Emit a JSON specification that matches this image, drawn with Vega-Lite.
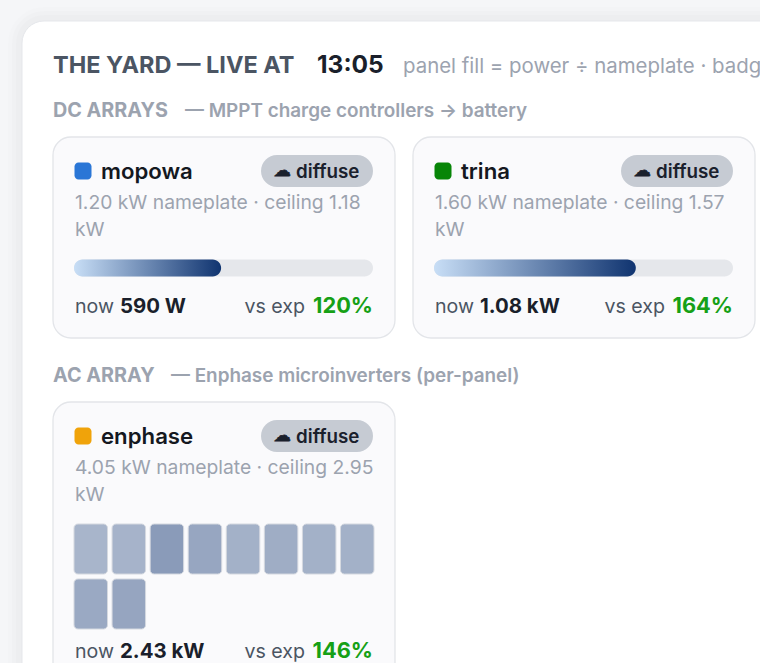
{
  "$schema": "https://vega.github.io/schema/vega-lite/v6.json",
  "width": 760,
  "height": 663,
  "autosize": {"type": "none"},
  "padding": 0,
  "background": "#f5f6f8",
  "config": {"view": {"stroke": null}, "text": {"font": "Inter", "align": "left", "baseline": "alphabetic"}},
  "datasets": {
    "header": [
      {"section": "DC ARRAYS", "slot": 1, "title": "THE YARD — LIVE AT", "time": "13:05", "note": "panel fill = power ÷ nameplate · badge"}
    ],
    "sections": [
      {"section": "DC ARRAYS", "slot": 1, "note": "— MPPT charge controllers → battery"},
      {"section": "AC ARRAY", "slot": 1, "note": "— Enphase microinverters (per-panel)"}
    ],
    "arrays": [
      {"array": "mopowa", "section": "DC ARRAYS", "slot": 1, "badge": "diffuse", "line1": "1.20 kW nameplate · ceiling 1.18", "line2": "kW", "now": "590 W", "vs_exp": "120%", "empty": 0, "full": 1, "fill_ratio": 0.492},
      {"array": "trina", "section": "DC ARRAYS", "slot": 2, "badge": "diffuse", "line1": "1.60 kW nameplate · ceiling 1.57", "line2": "kW", "now": "1.08 kW", "vs_exp": "164%", "empty": 0, "full": 1, "fill_ratio": 0.675},
      {"array": "enphase", "section": "AC ARRAY", "slot": 1, "badge": "diffuse", "line1": "4.05 kW nameplate · ceiling 2.95", "line2": "kW", "now": "2.43 kW", "vs_exp": "146%"}
    ],
    "panels": [
      {"panel": 1, "col": 1, "tier": 1, "ratio": 0.54},
      {"panel": 2, "col": 2, "tier": 1, "ratio": 0.55},
      {"panel": 3, "col": 3, "tier": 1, "ratio": 0.74},
      {"panel": 4, "col": 4, "tier": 1, "ratio": 0.65},
      {"panel": 5, "col": 5, "tier": 1, "ratio": 0.57},
      {"panel": 6, "col": 6, "tier": 1, "ratio": 0.6},
      {"panel": 7, "col": 7, "tier": 1, "ratio": 0.57},
      {"panel": 8, "col": 8, "tier": 1, "ratio": 0.57},
      {"panel": 9, "col": 1, "tier": 2, "ratio": 0.63},
      {"panel": 10, "col": 2, "tier": 2, "ratio": 0.66}
    ]
  },
  "resolve": {"scale": {"x": "independent", "y": "independent", "color": "independent"}},
  "layer": [
    {
      "encoding": {
        "x": {"field": "slot", "type": "ordinal", "axis": null, "scale": {"type": "point", "domain": [1, 2], "range": [53, 413], "padding": 0}},
        "y": {"field": "section", "type": "nominal", "axis": null, "scale": {"type": "point", "domain": ["DC ARRAYS", "AC ARRAY"], "range": [137, 402], "padding": 0}}
      },
      "layer": [
        {"data": {"name": "header"}, "mark": {"type": "rect", "width": 828, "height": 728, "xOffset": 369, "yOffset": 234, "fill": "#000000", "opacity": 0.008, "cornerRadius": 36}},
        {"data": {"name": "header"}, "mark": {"type": "rect", "width": 820, "height": 720, "xOffset": 369, "yOffset": 234, "fill": "#000000", "opacity": 0.01, "cornerRadius": 32}},
        {"data": {"name": "header"}, "mark": {"type": "rect", "width": 812, "height": 712, "xOffset": 369, "yOffset": 234, "fill": "#000000", "opacity": 0.012, "cornerRadius": 28}},
        {"data": {"name": "header"}, "mark": {"type": "rect", "width": 800, "height": 700, "xOffset": 369, "yOffset": 234, "fill": "#ffffff", "stroke": "#e5e7eb", "cornerRadius": 22}},
        {"data": {"name": "header"}, "mark": {"type": "text", "xOffset": 0, "yOffset": -64, "fontSize": 23.5, "fontWeight": 700, "fill": "#4b5563"}, "encoding": {"text": {"field": "title"}}},
        {"data": {"name": "header"}, "mark": {"type": "text", "xOffset": 264, "yOffset": -64, "fontSize": 24.5, "fontWeight": 700, "fill": "#1a1f2b"}, "encoding": {"text": {"field": "time"}}},
        {"data": {"name": "header"}, "mark": {"type": "text", "xOffset": 350, "yOffset": -64, "fontSize": 20.4, "fill": "#9ca3af"}, "encoding": {"text": {"field": "note"}}},
        {"data": {"name": "sections"}, "mark": {"type": "text", "yOffset": -20, "fontSize": 19.8, "fontWeight": 700, "fill": "#9ca3af"}, "encoding": {"text": {"field": "section"}}},
        {"data": {"name": "sections"}, "transform": [{"filter": "datum.section === 'DC ARRAYS'"}], "mark": {"type": "text", "xOffset": 132, "yOffset": -20, "fontSize": 18.9, "fontWeight": 600, "fill": "#9ca3af"}, "encoding": {"text": {"field": "note"}}},
        {"data": {"name": "sections"}, "transform": [{"filter": "datum.section === 'AC ARRAY'"}], "mark": {"type": "text", "xOffset": 118, "yOffset": -20, "fontSize": 18.9, "fontWeight": 600, "fill": "#9ca3af"}, "encoding": {"text": {"field": "note"}}},
        {"data": {"name": "arrays"}, "transform": [{"filter": "datum.section === 'DC ARRAYS'"}], "mark": {"type": "rect", "width": 342, "height": 201, "xOffset": 171, "yOffset": 100.5, "fill": "#fafafc", "stroke": "#e3e5e9", "strokeWidth": 1.3, "cornerRadius": 18}},
        {"data": {"name": "arrays"}, "transform": [{"filter": "datum.section === 'AC ARRAY'"}], "mark": {"type": "rect", "width": 342, "height": 500, "xOffset": 171, "yOffset": 250, "fill": "#fafafc", "stroke": "#e3e5e9", "strokeWidth": 1.3, "cornerRadius": 18}},
        {"data": {"name": "arrays"}, "mark": {"type": "rect", "width": 17, "height": 17, "xOffset": 30, "yOffset": 34, "cornerRadius": 4}, "encoding": {"color": {"field": "array", "type": "nominal", "legend": null, "scale": {"domain": ["mopowa", "trina", "enphase"], "range": ["#2a76d6", "#078507", "#f0a30a"]}}}},
        {"data": {"name": "arrays"}, "mark": {"type": "text", "xOffset": 48, "yOffset": 42, "fontSize": 22.2, "fontWeight": 600, "fill": "#14181f"}, "encoding": {"text": {"field": "array"}}},
        {"data": {"name": "arrays"}, "mark": {"type": "rect", "width": 112, "height": 32, "xOffset": 264, "yOffset": 34, "fill": "#c6cbd3", "cornerRadius": 16}},
        {"data": {"name": "arrays"}, "mark": {"type": "text", "xOffset": 221, "yOffset": 39, "fontSize": 17, "font": "DejaVu Sans", "fill": "#1a202c", "stroke": "#1a202c", "strokeWidth": 0.8, "text": "☁"}},
        {"data": {"name": "arrays"}, "mark": {"type": "text", "xOffset": 243, "yOffset": 41, "fontSize": 18.8, "fontWeight": 600, "fill": "#1a202c"}, "encoding": {"text": {"field": "badge"}}},
        {"data": {"name": "arrays"}, "mark": {"type": "text", "xOffset": 22, "yOffset": 72, "fontSize": 19.3, "fill": "#9ca3af"}, "encoding": {"text": {"field": "line1"}}},
        {"data": {"name": "arrays"}, "mark": {"type": "text", "xOffset": 22, "yOffset": 99, "fontSize": 19.3, "fill": "#9ca3af"}, "encoding": {"text": {"field": "line2"}}}
      ]
    },
    {
      "data": {"name": "arrays"},
      "encoding": {
        "x": {"field": "slot", "type": "ordinal", "axis": null, "scale": {"type": "point", "domain": [1, 2], "range": [53, 413], "padding": 0}},
        "y": {"field": "section", "type": "nominal", "axis": null, "scale": {"type": "point", "domain": ["DC ARRAYS", "AC ARRAY"], "range": [313, 658], "padding": 0}}
      },
      "layer": [
        {"mark": {"type": "text", "xOffset": 22, "fontSize": 19.6, "fill": "#4b5563", "text": "now"}},
        {"mark": {"type": "text", "xOffset": 67, "fontSize": 20.4, "fontWeight": 700, "fill": "#1a1f2b"}, "encoding": {"text": {"field": "now"}}},
        {"mark": {"type": "text", "xOffset": 252, "align": "right", "fontSize": 19.6, "fill": "#4b5563", "text": "vs exp"}},
        {"mark": {"type": "text", "xOffset": 320, "align": "right", "fontSize": 21.8, "fontWeight": 700, "fill": "#16a016"}, "encoding": {"text": {"field": "vs_exp"}}}
      ]
    },
    {
      "data": {"name": "arrays"},
      "transform": [{"filter": "datum.array === 'mopowa'"}],
      "encoding": {
        "y": {"field": "section", "type": "nominal", "axis": null, "scale": {"type": "point", "domain": ["DC ARRAYS", "AC ARRAY"], "range": [137, 402], "padding": 0}}
      },
      "layer": [
        {"mark": {"type": "rect", "height": 17, "yOffset": 131, "fill": "#e5e7eb", "cornerRadius": 8.5}, "encoding": {"x": {"field": "full", "type": "quantitative", "axis": null, "scale": {"domain": [0, 1], "range": [74, 373]}}, "x2": {"field": "empty"}}},
        {"mark": {"type": "rect", "height": 17, "yOffset": 131, "cornerRadius": 8.5, "fill": {"gradient": "linear", "x1": 0, "x2": 1, "y1": 0, "y2": 0, "stops": [{"offset": 0, "color": "#c8def6"}, {"offset": 1, "color": "#103470"}]}}, "encoding": {"x": {"field": "fill_ratio", "type": "quantitative", "axis": null, "scale": {"domain": [0, 1], "range": [74, 373]}}, "x2": {"field": "empty"}}}
      ]
    },
    {
      "data": {"name": "arrays"},
      "transform": [{"filter": "datum.array === 'trina'"}],
      "encoding": {
        "y": {"field": "section", "type": "nominal", "axis": null, "scale": {"type": "point", "domain": ["DC ARRAYS", "AC ARRAY"], "range": [137, 402], "padding": 0}}
      },
      "layer": [
        {"mark": {"type": "rect", "height": 17, "yOffset": 131, "fill": "#e5e7eb", "cornerRadius": 8.5}, "encoding": {"x": {"field": "full", "type": "quantitative", "axis": null, "scale": {"domain": [0, 1], "range": [434, 733]}}, "x2": {"field": "empty"}}},
        {"mark": {"type": "rect", "height": 17, "yOffset": 131, "cornerRadius": 8.5, "fill": {"gradient": "linear", "x1": 0, "x2": 1, "y1": 0, "y2": 0, "stops": [{"offset": 0, "color": "#c8def6"}, {"offset": 1, "color": "#103470"}]}}, "encoding": {"x": {"field": "fill_ratio", "type": "quantitative", "axis": null, "scale": {"domain": [0, 1], "range": [434, 733]}}, "x2": {"field": "empty"}}}
      ]
    },
    {
      "data": {"name": "panels"},
      "mark": {"type": "rect", "cornerRadius": 4, "stroke": "#d5d9e0", "strokeWidth": 1},
      "encoding": {
        "x": {"field": "col", "type": "ordinal", "axis": null, "scale": {"type": "band", "domain": [1, 2, 3, 4, 5, 6, 7, 8], "range": [74, 374], "paddingInner": 0.12, "paddingOuter": 0}},
        "y": {"field": "tier", "type": "ordinal", "axis": null, "scale": {"type": "band", "domain": [1, 2], "range": [524, 629], "paddingInner": 0.09, "paddingOuter": 0}},
        "color": {"field": "ratio", "type": "quantitative", "legend": null, "scale": {"domain": [0, 1.54], "range": ["#fafafc", "#103470"], "interpolate": "rgb"}}
      }
    }
  ]
}
